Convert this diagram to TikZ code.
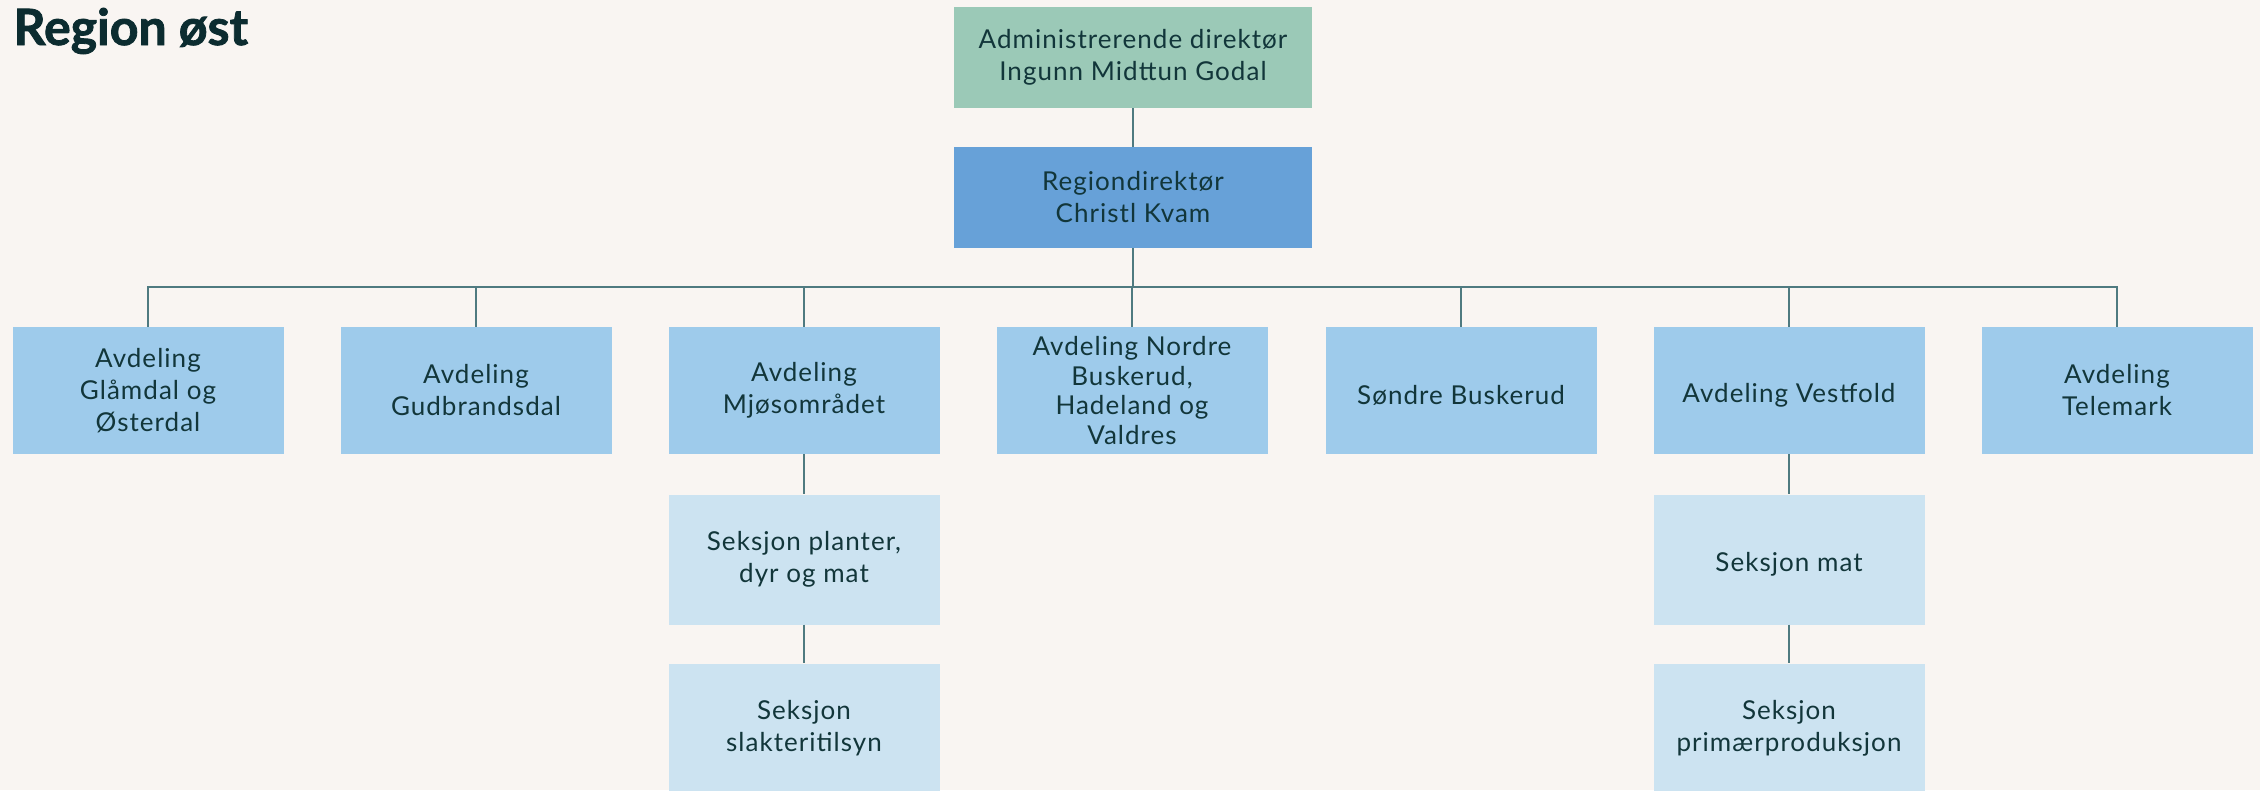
\documentclass[tikz,border=0pt]{standalone}
\usepackage{fontspec}
\setmainfont{Lato}[LetterSpace=4]
\newfontfamily\titlefont{Lato}[BoldFeatures={FakeBold=1.6}]
\definecolor{bg}{HTML}{F9F5F2}
\definecolor{topc}{HTML}{9BC9B7}
\definecolor{regc}{HTML}{67A1D8}
\definecolor{avdc}{HTML}{9ECBEB}
\definecolor{seksc}{HTML}{CCE3F1}
\definecolor{linec}{HTML}{4F7A80}
\definecolor{txt}{HTML}{12363A}
\definecolor{titlec}{HTML}{0C2C30}
\begin{document}
\begin{tikzpicture}[x=1pt,y=-1pt,
  basebox/.style={rectangle, inner sep=0pt, align=center, text=txt,
    font=\fontsize{26}{32}\selectfont,
    execute at begin node={\rule{0pt}{28pt}}},
  headbox/.style={basebox, minimum width=358pt, minimum height=101pt},
  avdbox/.style={basebox, fill=avdc, minimum width=271pt, minimum height=127pt},
  seksbox/.style={basebox, fill=seksc, minimum width=271pt, minimum height=130pt},
  conn/.style={draw=linec, line width=2pt}]
\fill[bg] (0,0) rectangle (2260,790);
\useasboundingbox (0,0) rectangle (2260,790);

\node[anchor=base west, text=titlec, font=\fontsize{50}{56}\titlefont\bfseries] (title) at (10,45) {Region øst};

\node[headbox, fill=topc] (adm) at (1133,57.5) {Administrerende direktør\\Ingunn Midttun Godal};
\node[headbox, fill=regc] (reg) at (1133,197.5) {Regiondirektør\\Christl Kvam};

\node[avdbox] (a1) at (148,390.5) {Avdeling\\Glåmdal og\\Østerdal};
\node[avdbox] (a2) at (476,390.5) {Avdeling\\Gudbrandsdal};
\node[avdbox] (a3) at (804,390.5) {Avdeling\\Mjøsområdet};
\node[avdbox, font=\fontsize{26}{29.5}\selectfont] (a4) at (1132,390.5) {Avdeling Nordre\\Buskerud,\\Hadeland og\\Valdres};
\node[avdbox] (a5) at (1461,390.5) {Søndre Buskerud};
\node[avdbox] (a6) at (1789,390.5) {Avdeling Vestfold};
\node[avdbox] (a7) at (2117,390.5) {Avdeling\\Telemark};

\node[seksbox] (s1) at (804,559.5) {Seksjon planter,\\dyr og mat};
\node[seksbox] (s2) at (804,728.5) {Seksjon\\slakteritilsyn};
\node[seksbox] (s3) at (1789,559.5) {Seksjon mat};
\node[seksbox] (s4) at (1789,728.5) {Seksjon\\primærproduksjon};

\coordinate (bus) at (1133,287);
\draw[conn] (adm.south) -- (reg.north);
\draw[conn] (reg.south) -- (bus);
\foreach \n in {a1,a2,a3,a4,a5,a6,a7}{
  \draw[conn] (\n.north) |- (bus);
}
\draw[conn] (a3.south) -- (s1.north);
\draw[conn] (s1.south) -- (s2.north);
\draw[conn] (a6.south) -- (s3.north);
\draw[conn] (s3.south) -- (s4.north);
\end{tikzpicture}
\end{document}
